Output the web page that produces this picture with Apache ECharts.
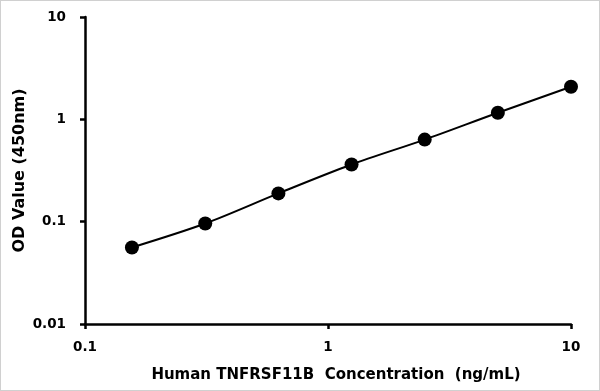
<!DOCTYPE html>
<html><head><meta charset="utf-8">
<script src="https://cdn.jsdelivr.net/npm/echarts@6/dist/echarts.min.js"></script>
<style>html,body{margin:0;padding:0;background:#fff}#c{width:600px;height:391px;box-sizing:border-box;border:1px solid #d0d0d0}</style>
</head><body><div id="c"></div>
<script>
const concentrations = [0.156, 0.3125, 0.625, 1.25, 2.5, 5, 10];
const odValues = [0.056, 0.096, 0.189, 0.362, 0.634, 1.16, 2.08];
const xTitle = 'Human TNFRSF11B  Concentration  (ng/mL)';
const yTitle = 'OD Value (450nm)';
const font = 'DejaVu Sans';
const chart = echarts.init(document.getElementById('c'), null, {renderer:'canvas'});
const axisCommon = {
  type:'log', logBase:10,
  axisLine:{show:true, onZero:false, lineStyle:{color:'#000', width:2.5}},
  axisTick:{show:true, inside:false, length:5, lineStyle:{color:'#000', width:2.5}},
  minorTick:{show:false}, splitLine:{show:false},
  axisLabel:{color:'#000', fontWeight:'bold', fontSize:13.5, fontFamily:font,
    formatter:v=>String(+v.toPrecision(3))}
};
chart.setOption({
  animation:false,
  grid:{left:84, right:28, top:16, bottom:66, containLabel:false, outerBoundsMode:'none'},
  xAxis:Object.assign({}, axisCommon, {min:0.1, max:10, name:xTitle, nameLocation:'middle', nameGap:44,
    nameTextStyle:{color:'#000', fontWeight:'bold', fontSize:15, fontFamily:font, padding:[0,0,0,16]},
    axisLabel:Object.assign({}, axisCommon.axisLabel, {margin:16})}),
  yAxis:Object.assign({}, axisCommon, {min:0.01, max:10, name:yTitle, nameLocation:'middle', nameGap:57,
    nameMoveOverlap:false,
    nameTextStyle:{color:'#000', fontWeight:'bold', fontSize:16, fontFamily:font},
    axisLabel:Object.assign({}, axisCommon.axisLabel, {margin:19})}),
  series:[{type:'line', smooth:0.3, data:concentrations.map((x,i)=>[x, odValues[i]]),
    symbol:'circle', symbolSize:14, itemStyle:{color:'#000'}, lineStyle:{color:'#000', width:2}}]
});
</script></body></html>
